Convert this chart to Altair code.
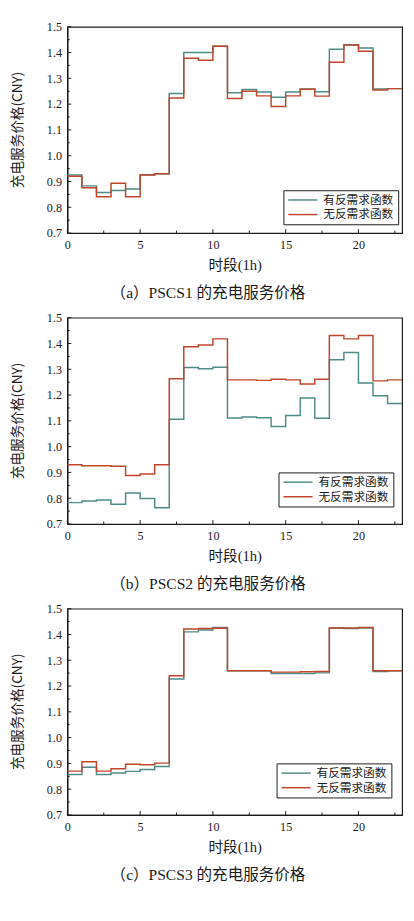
import altair as alt
import pandas as pd

# ---------------- data ----------------
hours = list(range(24))            # step edges 0..23 (23 hourly segments)
series_names = ["有反需求函数", "无反需求函数"]
series_colors = ["#4E8C87", "#C0452A"]

p1_with = [0.925, 0.883, 0.857, 0.865, 0.871, 0.926, 0.930, 1.241, 1.400, 1.400,
           1.424, 1.244, 1.257, 1.247, 1.227, 1.247, 1.259, 1.248, 1.413, 1.429,
           1.418, 1.259, 1.260]
p1_without = [0.920, 0.876, 0.841, 0.893, 0.841, 0.925, 0.930, 1.224, 1.378, 1.370,
              1.424, 1.222, 1.250, 1.232, 1.191, 1.232, 1.258, 1.231, 1.362, 1.429,
              1.405, 1.255, 1.260]

p2_with = [0.783, 0.789, 0.793, 0.777, 0.820, 0.799, 0.763, 1.106, 1.307, 1.302,
           1.308, 1.111, 1.115, 1.112, 1.078, 1.121, 1.189, 1.110, 1.337, 1.365,
           1.247, 1.197, 1.167]
p2_without = [0.930, 0.926, 0.926, 0.924, 0.888, 0.894, 0.930, 1.263, 1.387, 1.394,
              1.418, 1.259, 1.259, 1.257, 1.261, 1.259, 1.243, 1.261, 1.431, 1.418,
              1.431, 1.255, 1.259]

p3_with = [0.857, 0.885, 0.857, 0.863, 0.869, 0.876, 0.888, 1.227, 1.410, 1.417,
           1.427, 1.259, 1.259, 1.259, 1.249, 1.249, 1.249, 1.251, 1.425, 1.423,
           1.425, 1.256, 1.259]
p3_without = [0.870, 0.906, 0.870, 0.879, 0.897, 0.895, 0.901, 1.240, 1.421, 1.423,
              1.424, 1.259, 1.259, 1.259, 1.254, 1.254, 1.255, 1.256, 1.425, 1.425,
              1.427, 1.259, 1.259]

x_tick_labels = [0, 5, 10, 15, 20]
x_minor_ticks = [2.5, 7.5, 12.5, 17.5, 22.5]
y_tick_labels = [0.7, 0.8, 0.9, 1.0, 1.1, 1.2, 1.3, 1.4, 1.5]
y_minor_ticks = [0.75, 0.85, 0.95, 1.05, 1.15, 1.25, 1.35, 1.45]

captions = ["（a）PSCS1 的充电服务价格",
            "（b）PSCS2 的充电服务价格",
            "（c）PSCS3 的充电服务价格"]
x_title = "时段(1h)"
y_title = "充电服务价格(CNY)"

# ---------------- style ----------------
W, H = 344, 212
SERIF = "Liberation Serif, Noto Sans CJK SC"
CJK = "Noto Sans CJK SC"
INK = "#1a1a1a"
legend_xy = [(222, 168), (217, 159), (215, 159)]

xscale = alt.Scale(domain=[0, 23], nice=False, zero=False)
yscale = alt.Scale(domain=[0.7, 1.5], nice=False, zero=False)
xaxis = alt.Axis(values=x_tick_labels, title=x_title, format="d", labelFlush=False,
                 labelPadding=6, titlePadding=7)
yaxis = alt.Axis(values=y_tick_labels, title=None, format=".1f", labelPadding=6)


def panel(v_with, v_without, caption, lxy):
    rows = []
    for name, vals in ((series_names[0], v_with), (series_names[1], v_without)):
        ext = list(vals) + [vals[-1]]
        for h, v in zip(hours, ext):
            rows.append({"hour": h, "price": v, "series": name})
    df = pd.DataFrame(rows)

    x_enc = alt.X("hour:Q", scale=xscale, axis=xaxis)
    y_enc = alt.Y("price:Q", scale=yscale, axis=yaxis)
    color = alt.Color("series:N",
                      scale=alt.Scale(domain=series_names, range=series_colors),
                      legend=alt.Legend(orient="none", legendX=lxy[0], legendY=lxy[1],
                                        title=None, symbolType="M-3,0H3", symbolSize=100,
                                        symbolOffset=10, labelOffset=15,
                                        symbolStrokeWidth=1.5, labelFont=CJK,
                                        labelFontSize=12, labelColor=INK,
                                        strokeColor=INK, fillColor="white",
                                        padding=4, rowPadding=3,
                                        labelLimit=200))
    base = alt.Chart(df)
    l1 = base.transform_filter(alt.datum.series == series_names[0]).mark_line(
        interpolate="step-after", strokeWidth=1.5).encode(x=x_enc, y=y_enc, color=color)
    l2 = base.transform_filter(alt.datum.series == series_names[1]).mark_line(
        interpolate="step-after", strokeWidth=1.5).encode(x=x_enc, y=y_enc, color=color)

    xmaj = alt.Chart(pd.DataFrame({"hour": x_tick_labels})).mark_rule(
        color=INK, strokeWidth=1).encode(
        x=alt.X("hour:Q", scale=xscale, axis=xaxis), y=alt.value(H), y2=alt.value(H - 4))
    xmin = alt.Chart(pd.DataFrame({"hour": x_minor_ticks})).mark_rule(
        color=INK, strokeWidth=1).encode(
        x=alt.X("hour:Q", scale=xscale, axis=xaxis), y=alt.value(H), y2=alt.value(H - 2.5))
    ymaj = alt.Chart(pd.DataFrame({"price": y_tick_labels})).mark_rule(
        color=INK, strokeWidth=1).encode(
        y=alt.Y("price:Q", scale=yscale, axis=yaxis), x=alt.value(0), x2=alt.value(4))
    ymin = alt.Chart(pd.DataFrame({"price": y_minor_ticks})).mark_rule(
        color=INK, strokeWidth=1).encode(
        y=alt.Y("price:Q", scale=yscale, axis=yaxis), x=alt.value(0), x2=alt.value(2.5))

    ytitle = alt.Chart(pd.DataFrame({"label": [y_title]})).mark_text(
        angle=270, font=CJK, fontSize=14, color=INK, align="center",
        baseline="middle").encode(
        x=alt.value(-51), y=alt.value(H / 2), text="label:N")

    return alt.layer(l1, l2, xmaj, xmin, ymaj, ymin, ytitle).properties(
        width=W, height=H,
        title=alt.TitleParams(caption, orient="bottom", anchor="middle", frame="bounds",
                              font=SERIF, fontSize=16, fontWeight="normal",
                              color=INK, offset=13))


chart = alt.vconcat(
    panel(p1_with, p1_without, captions[0], legend_xy[0]),
    panel(p2_with, p2_without, captions[1], legend_xy[1]),
    panel(p3_with, p3_without, captions[2], legend_xy[2]),
    spacing=9,
).resolve_scale(color="independent").resolve_legend(color="independent").properties(
    padding={"left": 2, "top": 0, "right": 0, "bottom": 0},
    background="white",
).configure_view(
    stroke=INK, strokeWidth=1.2, fill="white"
).configure_axis(
    grid=False, ticks=False, domainColor=INK, domainWidth=1.2,
    labelFont="Liberation Serif", labelFontSize=12.5, labelColor=INK,
    titleFont=SERIF, titleFontSize=15, titleFontWeight="normal", titleColor=INK,
)

chart.save("out.html", embed_options={"renderer": "svg", "actions": False})
